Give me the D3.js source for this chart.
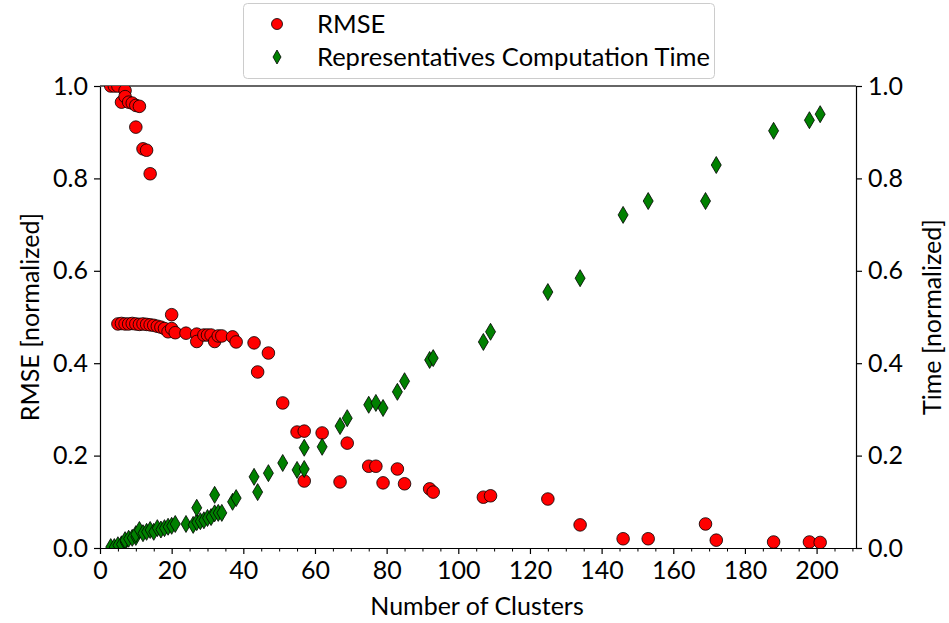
<!DOCTYPE html>
<html>
<head>
<meta charset="utf-8">
<script src="https://cdn.jsdelivr.net/npm/d3@7"></script>
<style>
body { margin: 0; background: #fff; }
text { font-family: Lato, "Open Sans", sans-serif; fill: #000; }
</style>
</head>
<body>
<div id="svg"></div>
<script>
var width = 949;
var height = 623;

// RMSE points (number of clusters, normalized RMSE)
var rmse_clusters = [3, 4, 5, 6, 7, 7, 8, 9, 10, 11, 10, 12, 13, 14,
	5, 6, 7, 8, 9, 10, 11, 12, 13, 14, 15, 16, 17, 18, 19, 20, 20, 21, 24, 27, 27, 29, 30, 31, 32, 33, 34, 37, 38,
	43, 44, 47, 51, 55, 57, 57, 62, 67, 69, 75, 77, 79, 83, 85, 92, 93, 107, 109, 125, 134,
	146, 153, 169, 172, 188, 198, 201];
var rmse_values = [1.0, 1.0, 1.0, 0.965, 0.99, 0.977, 0.965, 0.963, 0.958, 0.956, 0.911, 0.864, 0.861, 0.81,
	0.485, 0.486, 0.485, 0.485, 0.486, 0.485, 0.484, 0.485, 0.484, 0.483, 0.482, 0.48, 0.478, 0.475, 0.468, 0.505, 0.475, 0.466, 0.465, 0.463, 0.447, 0.461, 0.461, 0.461, 0.447, 0.459, 0.459, 0.457, 0.446,
	0.444, 0.381, 0.422, 0.314, 0.251, 0.253, 0.145, 0.249, 0.143, 0.227, 0.177, 0.177, 0.141, 0.171, 0.139, 0.128, 0.121, 0.11, 0.113, 0.106, 0.05,
	0.02, 0.02, 0.052, 0.017, 0.013, 0.013, 0.012];

// Representatives computation time (number of clusters, normalized time)
var time_clusters = [3, 4, 5, 6, 7, 7, 8, 9, 10, 10, 11, 12, 13, 14, 15, 16, 17, 18, 19, 20, 21, 24, 26, 27, 27, 28, 29, 30, 31, 32, 32, 33, 34, 37, 38,
	43, 44, 47, 51, 55, 57, 57, 62, 67, 69, 75, 77, 79, 83, 85, 92, 93, 107, 109, 125, 134,
	146, 153, 169, 172, 188, 198, 201];
var time_values = [0.002, 0.002, 0.006, 0.008, 0.013, 0.017, 0.02, 0.022, 0.024, 0.03, 0.039, 0.032, 0.035, 0.039, 0.035, 0.043, 0.04, 0.043, 0.046, 0.048, 0.052, 0.052, 0.05, 0.056, 0.087, 0.058, 0.06, 0.065, 0.067, 0.115, 0.075, 0.076, 0.076, 0.1, 0.108,
	0.154, 0.121, 0.162, 0.184, 0.169, 0.171, 0.217, 0.219, 0.264, 0.281, 0.31, 0.314, 0.303, 0.338, 0.361, 0.407, 0.411, 0.446, 0.468, 0.554, 0.584,
	0.721, 0.751, 0.751, 0.829, 0.903, 0.926, 0.939];

var x_ticks = [0, 20, 40, 60, 80, 100, 120, 140, 160, 180, 200];
var y_ticks = [0.0, 0.2, 0.4, 0.6, 0.8, 1.0];
var legend_labels = ['RMSE', 'Representatives Computation Time'];

var margin = {left: 100, right: 93, top: 86, bottom: 75};
var plot_w = width - margin.left - margin.right;
var plot_h = height - margin.top - margin.bottom;

var canvas = d3.select('#svg')
	.append('svg')
	.attr('width', width)
	.attr('height', height);

function main()
{
	var x = d3.scaleLinear().domain([0, 211]).range([0, plot_w]);
	var y = d3.scaleLinear().domain([0, 1]).range([plot_h, 0]);

	var g = canvas.append('g')
		.attr('transform', 'translate(' + margin.left + ',' + margin.top + ')');

	canvas.append('defs').append('clipPath')
		.attr('id', 'clip')
		.append('rect')
		.attr('x', 0).attr('y', 0)
		.attr('width', plot_w).attr('height', plot_h);

	// x axis with minor ticks
	var x_minor = d3.range(0, 211, 5).filter((d) => d % 20 != 0);
	g.append('g')
		.attr('transform', 'translate(0,' + plot_h + ')')
		.call(d3.axisBottom(x).tickValues(x_minor).tickSize(3.5).tickFormat(''))
		.call((s) => s.select('.domain').remove());
	var xa = g.append('g')
		.attr('transform', 'translate(0,' + plot_h + ')')
		.call(d3.axisBottom(x).tickValues(x_ticks).tickSize(6).tickSizeOuter(0).tickPadding(6).tickFormat(d3.format('d')));

	var yl = g.append('g')
		.call(d3.axisLeft(y).tickValues(y_ticks).tickSize(6).tickSizeOuter(0).tickPadding(6).tickFormat(d3.format('.1f')));
	var yr = g.append('g')
		.attr('transform', 'translate(' + plot_w + ',0)')
		.call(d3.axisRight(y).tickValues(y_ticks).tickSize(6).tickSizeOuter(0).tickPadding(6).tickFormat(d3.format('.1f')));

	[xa, yl, yr].forEach((a) => {
		a.selectAll('text').style('font-size', '25px').style('font-family', 'Lato, sans-serif');
		a.selectAll('line').attr('stroke', '#000').attr('stroke-width', 1.2);
		a.select('.domain').attr('stroke', '#000').attr('stroke-width', 1.2);
	});
	xa.selectAll('text').attr('dy', '0.75em');

	// top spine
	g.append('line')
		.attr('x1', 0).attr('x2', plot_w)
		.attr('y1', 0).attr('y2', 0)
		.attr('stroke', '#333').attr('stroke-width', 1.5);

	var pts = g.append('g').attr('clip-path', 'url(#clip)');

	pts.selectAll('.rmse')
		.data(d3.range(rmse_clusters.length))
		.enter().append('circle')
			.attr('class', 'rmse')
			.attr('cx', (i) => x(rmse_clusters[i]))
			.attr('cy', (i) => y(rmse_values[i]))
			.attr('r', 6.3)
			.attr('fill', '#ff0000')
			.attr('stroke', '#000')
			.attr('stroke-width', 0.8);

	var diamond = 'M0,-8.5L5,0L0,8.5L-5,0Z';
	pts.selectAll('.time')
		.data(d3.range(time_clusters.length))
		.enter().append('path')
			.attr('class', 'time')
			.attr('transform', (i) => 'translate(' + x(time_clusters[i]) + ',' + y(time_values[i]) + ')')
			.attr('d', diamond)
			.attr('fill', '#008000')
			.attr('stroke', '#000')
			.attr('stroke-width', 0.8);

	// axis labels
	canvas.append('text')
		.attr('x', margin.left + plot_w / 2 - 1)
		.attr('y', 615)
		.attr('text-anchor', 'middle')
		.style('font-size', '25px')
		.text('Number of Clusters');
	canvas.append('text')
		.attr('transform', 'translate(39,' + (margin.top + plot_h / 2) + ') rotate(-90)')
		.attr('text-anchor', 'middle')
		.style('font-size', '25px')
		.text('RMSE [normalized]');
	canvas.append('text')
		.attr('transform', 'translate(941,' + (margin.top + plot_h / 2) + ') rotate(-90)')
		.attr('text-anchor', 'middle')
		.style('font-size', '25px')
		.text('Time [normalized]');

	// legend
	var lg = canvas.append('g');
	lg.append('rect')
		.attr('x', 243.5).attr('y', 3.5)
		.attr('width', 471).attr('height', 75)
		.attr('rx', 4)
		.attr('fill', '#fff')
		.attr('stroke', '#cccccc')
		.attr('stroke-width', 1);
	lg.append('circle')
		.attr('cx', 277).attr('cy', 24)
		.attr('r', 5.5)
		.attr('fill', '#ff0000').attr('stroke', '#000').attr('stroke-width', 0.8);
	lg.append('path')
		.attr('transform', 'translate(277,57)')
		.attr('d', 'M0,-7L4,0L0,7L-4,0Z')
		.attr('fill', '#008000').attr('stroke', '#000').attr('stroke-width', 0.8);
	lg.selectAll('.lt')
		.data(legend_labels)
		.enter().append('text')
			.attr('class', 'lt')
			.attr('x', 317)
			.attr('y', (d, i) => 33 + i * 33)
			.style('font-size', '25.5px')
			.text((d) => d);
}

main();
</script>
</body>
</html>
